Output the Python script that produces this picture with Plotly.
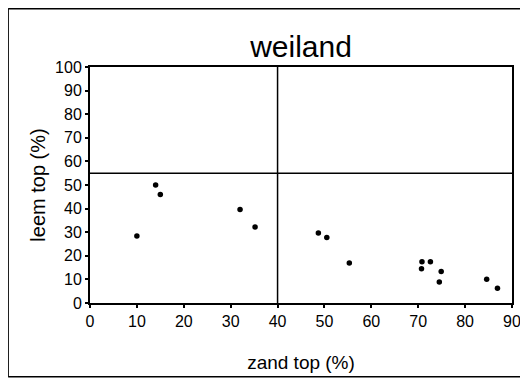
import plotly.graph_objects as go

zand = [10, 14, 15, 32, 35.2, 48.7, 50.5, 55.3, 70.8, 70.7, 72.6, 74.9, 74.5, 84.6, 86.9]
leem = [28.4, 50, 46, 39.6, 32.2, 29.7, 27.8, 16.9, 17.5, 14.5, 17.5, 13.4, 8.9, 10.1, 6.2]
x_ticks = [0, 10, 20, 30, 40, 50, 60, 70, 80, 90]
y_ticks = [0, 10, 20, 30, 40, 50, 60, 70, 80, 90, 100]
ref_x = 40
ref_y = 55

fig = go.Figure()
fig.add_trace(go.Scatter(x=zand, y=leem, mode="markers", cliponaxis=False,
                         marker=dict(color="black", size=5.5, symbol="circle")))

fig.add_shape(type="line", xref="x", yref="y", x0=ref_x, x1=ref_x, y0=0, y1=100,
              line=dict(color="black", width=1.5))
fig.add_shape(type="line", xref="x", yref="y", x0=0, x1=90, y0=ref_y, y1=ref_y,
              line=dict(color="black", width=1.5))
# outer frame: top, left and bottom edges only (right side runs off the picture)
frame = dict(xref="paper", yref="paper", line=dict(color="black", width=1.5), layer="below")
fig.add_shape(type="line", x0=-0.194, x1=1.05, y0=1.247, y1=1.247, **frame)
fig.add_shape(type="line", x0=-0.194, x1=-0.194, y0=-0.312, y1=1.247, **frame)
fig.add_shape(type="line", x0=-0.194, x1=1.05, y0=-0.312, y1=-0.312, **frame)

font = "Liberation Sans, Arial, sans-serif"
fig.update_layout(
    width=520, height=371,
    margin=dict(l=82, r=16, t=59, b=76, autoexpand=False),
    paper_bgcolor="white", plot_bgcolor="white",
    showlegend=False,
    title=dict(text="weiland", xref="paper", x=0.5, xanchor="center", y=0.895, yanchor="middle",
               font=dict(family=font, size=30, color="black")),
    font=dict(family=font, color="black"),
)
fig.update_xaxes(range=[0, 90], tickvals=x_ticks, ticks="outside", ticklen=3, tickwidth=1.5,
                 tickcolor="black", showline=True, linecolor="black", linewidth=2, mirror=True,
                 showgrid=False, zeroline=False, tickfont=dict(size=16, family=font),
                 automargin=False,
                 title=dict(text="zand top (%)", font=dict(size=19, family=font), standoff=26))
fig.update_yaxes(range=[0, 100], tickvals=y_ticks, ticks="outside", ticklen=3, tickwidth=1.5,
                 tickcolor="black", showline=True, linecolor="black", linewidth=2, mirror=True,
                 showgrid=False, zeroline=False, tickfont=dict(size=16, family=font),
                 automargin=False,
                 title=dict(text="leem top (%)", font=dict(size=20, family=font), standoff=4))

fig.write_html("out.html")
